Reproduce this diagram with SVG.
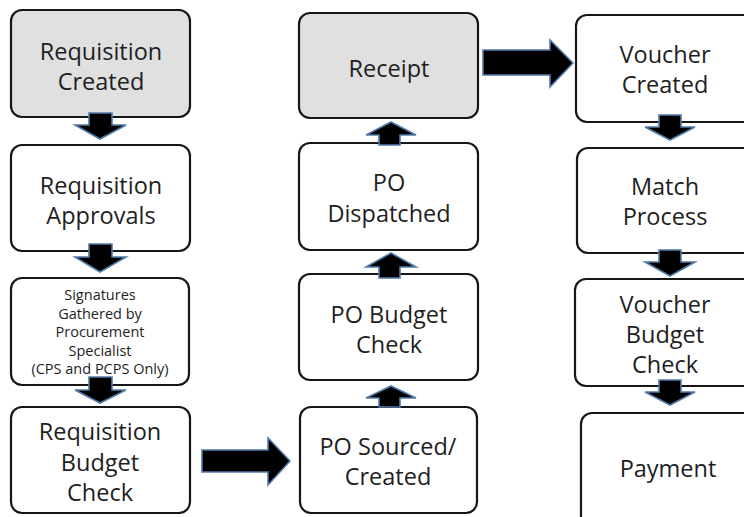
<svg xmlns="http://www.w3.org/2000/svg" width="744" height="517" viewBox="0 0 744 517">
<style>
.box{fill:#ffffff;stroke:#161616;stroke-width:2.2}
.gray{fill:#e0e0e0}
.t{font-family:"Open Sans","Noto Sans",sans-serif;font-size:23.5px;fill:#1e1e1e;text-anchor:middle}
.s{font-size:14.5px}
.arr{fill:#000000;stroke:#4f7aab;stroke-width:1.6;stroke-linejoin:miter}
</style>
<rect width="744" height="517" fill="#ffffff"/>
<g id="req-created"><rect class="box gray" x="11" y="10" width="179" height="107" rx="11"/><text class="t" x="101" y="60">Requisition</text><text class="t" x="101" y="90">Created</text></g>
<g id="req-approvals"><rect class="box" x="11" y="145" width="179" height="106" rx="11"/><text class="t" x="101" y="194">Requisition</text><text class="t" x="101" y="224">Approvals</text></g>
<g id="signatures"><rect class="box" x="11" y="278" width="178" height="107" rx="11"/><text class="t s" x="100" y="300">Signatures</text><text class="t s" x="100" y="318.5">Gathered by</text><text class="t s" x="100" y="337">Procurement</text><text class="t s" x="100" y="355.5">Specialist</text><text class="t s" x="100" y="374">(CPS and PCPS Only)</text></g>
<g id="req-budget"><rect class="box" x="11" y="407" width="179" height="106" rx="11"/><text class="t" x="100" y="440">Requisition</text><text class="t" x="100" y="471">Budget</text><text class="t" x="100" y="501">Check</text></g>
<g id="receipt"><rect class="box gray" x="299" y="13" width="179" height="105" rx="11"/><text class="t" x="389" y="77">Receipt</text></g>
<g id="po-dispatched"><rect class="box" x="299" y="143" width="179" height="107" rx="11"/><text class="t" x="389" y="191">PO</text><text class="t" x="389" y="222">Dispatched</text></g>
<g id="po-budget"><rect class="box" x="299" y="274" width="179" height="106" rx="11"/><text class="t" x="389" y="323">PO Budget</text><text class="t" x="389" y="353">Check</text></g>
<g id="po-sourced"><rect class="box" x="300" y="407" width="177" height="106" rx="11"/><text class="t" x="388" y="455">PO Sourced/</text><text class="t" x="388" y="485">Created</text></g>
<g id="voucher-created"><rect class="box" x="576" y="15" width="190" height="107" rx="11"/><text class="t" x="665" y="63">Voucher</text><text class="t" x="665" y="93">Created</text></g>
<g id="match-process"><rect class="box" x="577" y="148" width="190" height="105" rx="11"/><text class="t" x="665" y="195">Match</text><text class="t" x="665" y="225">Process</text></g>
<g id="voucher-budget"><rect class="box" x="575" y="279" width="190" height="107" rx="11"/><text class="t" x="665" y="313">Voucher</text><text class="t" x="665" y="343">Budget</text><text class="t" x="665" y="373">Check</text></g>
<g id="payment"><rect class="box" x="581" y="413" width="190" height="115" rx="11"/><text class="t" x="668" y="477">Payment</text></g>
<g id="connectors">
<polygon class="arr" points="89,113 112,113 112,125 126,125 100,139 75,125 89,125"/>
<polygon class="arr" points="89,244 112,244 112,257 126,257 100,272 75,257 89,257"/>
<polygon class="arr" points="89,377 112,377 112,390 126,390 100,403 75,390 89,390"/>
<polygon class="arr" points="659,115 681,115 681,127 695,127 670,140 645,127 659,127"/>
<polygon class="arr" points="659,250 681,250 681,262 695,262 670,276 645,262 659,262"/>
<polygon class="arr" points="659,380 681,380 681,392 695,392 670,405 645,392 659,392"/>
<polygon class="arr" points="379,145 400,145 400,135 416,135 391,122 366,135 379,135"/>
<polygon class="arr" points="379,278 400,278 400,267 416,267 391,253 366,267 379,267"/>
<polygon class="arr" points="379,407 400,407 400,398 416,398 391,386 366,398 379,398"/>
<polygon class="arr" points="202,450 268,450 268,438 290,461 268,485 268,472 202,472"/>
<polygon class="arr" points="483,50 550,50 550,40 573,63 550,87 550,75 483,75"/>
</g>
</svg>
